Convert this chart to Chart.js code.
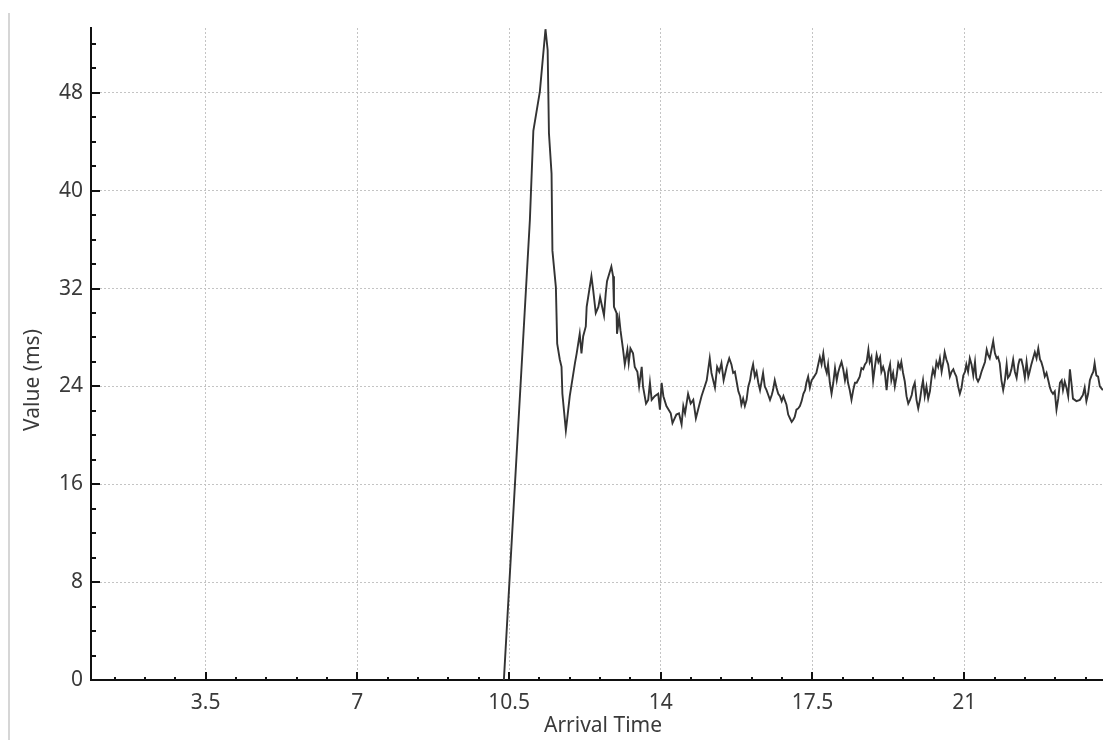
<!DOCTYPE html>
<html>
<head>
<meta charset="utf-8">
<script src="https://cdn.jsdelivr.net/npm/chart.js@4.4.1/dist/chart.umd.min.js"></script>
<style>
  html, body { margin: 0; padding: 0; background: #fff; overflow: hidden; }
  #wrap { position: relative; width: 1103px; height: 740px; overflow: hidden; }
  #edge { position: absolute; left: 8px; top: 13px; width: 2px; bottom: 0; background: #d6d6d6; }
  canvas { position: absolute; left: 0; top: 0; }
</style>
</head>
<body>
<div id="wrap"><div id="edge"></div><canvas id="chart" width="1115" height="740"></canvas></div>
<script>
// arrival time (x) and value in ms (y)
var arrivalTime = [10.38, 10.98, 11.06, 11.21, 11.34, 11.39, 11.42, 11.48, 11.50, 11.58, 11.61, 11.67, 11.71, 11.73, 11.81, 11.84, 11.90,
  12.02, 12.06, 12.13, 12.17, 12.21, 12.27, 12.29, 12.40, 12.44, 12.50, 12.56, 12.60, 12.63, 12.69, 12.73, 12.76, 12.86, 12.90, 12.92, 12.98, 12.99,
  13.04, 13.07, 13.13, 13.17, 13.23, 13.26, 13.30, 13.36, 13.40, 13.46, 13.50, 13.56, 13.59, 13.66, 13.71, 13.75, 13.79, 13.86, 13.94, 13.98,
  14.02, 14.06, 14.13, 14.23, 14.27, 14.36, 14.42, 14.48, 14.52, 14.56, 14.63, 14.69, 14.75, 14.81, 14.86, 14.94,
  15.06, 15.13, 15.17, 15.25, 15.30, 15.35, 15.40, 15.45, 15.52, 15.58, 15.63, 15.67, 15.71, 15.75, 15.79, 15.83, 15.86, 15.90, 15.94, 15.98,
  16.02, 16.06, 16.09, 16.13, 16.17, 16.21, 16.25, 16.29, 16.33, 16.36, 16.40, 16.44, 16.48, 16.52, 16.56, 16.59, 16.63, 16.67, 16.71, 16.75, 16.79, 16.83, 16.86, 16.90, 16.94, 16.98,
  17.02, 17.06, 17.09, 17.13, 17.17, 17.21, 17.25, 17.29, 17.33, 17.36, 17.40, 17.44, 17.48, 17.52, 17.59, 17.67, 17.71, 17.75, 17.79, 17.83, 17.86, 17.90, 17.94, 17.98,
  18.02, 18.06, 18.09, 18.13, 18.17, 18.21, 18.25, 18.29, 18.32, 18.36, 18.40, 18.44, 18.48, 18.52, 18.59, 18.63, 18.67, 18.71, 18.75, 18.79, 18.82, 18.86, 18.90, 18.94, 18.98,
  19.02, 19.06, 19.09, 19.13, 19.17, 19.21, 19.25, 19.29, 19.32, 19.36, 19.40, 19.44, 19.48, 19.52, 19.55, 19.59, 19.63, 19.67, 19.71, 19.75, 19.79, 19.82, 19.86, 19.90, 19.94, 19.98,
  20.02, 20.05, 20.09, 20.13, 20.17, 20.21, 20.25, 20.28, 20.32, 20.36, 20.40, 20.44, 20.48, 20.52, 20.55, 20.59, 20.63, 20.67, 20.71, 20.75, 20.78, 20.82, 20.86, 20.90, 20.94, 20.98,
  21.02, 21.05, 21.09, 21.13, 21.17, 21.21, 21.25, 21.28, 21.32, 21.36, 21.40, 21.44, 21.48, 21.52, 21.55, 21.59, 21.63, 21.67, 21.71, 21.75, 21.78, 21.82, 21.86, 21.90, 21.94, 21.98,
  22.01, 22.05, 22.09, 22.13, 22.17, 22.21, 22.25, 22.28, 22.32, 22.36, 22.40, 22.44, 22.48, 22.51, 22.55, 22.59, 22.63, 22.67, 22.71, 22.75, 22.78, 22.82, 22.86, 22.90, 22.94, 22.98,
  23.01, 23.05, 23.09, 23.13, 23.17, 23.21, 23.25, 23.28, 23.32, 23.36, 23.40, 23.44, 23.48, 23.51, 23.59, 23.67, 23.74, 23.78, 23.82, 23.86, 23.90, 23.94, 23.98,
  24.01, 24.05, 24.09, 24.13, 24.20];
var valueMs = [0, 37.6, 44.9, 48.1, 53.2, 51.5, 44.7, 41.4, 35.1, 32.1, 27.5, 26.2, 25.6, 23.4, 20.4, 21.3, 23.2,
  25.9, 26.7, 28.3, 26.7, 28.1, 28.9, 30.5, 33.0, 31.9, 30.0, 30.5, 31.3, 30.8, 29.8, 31.6, 32.6, 33.8, 33.0, 30.5, 30.0, 28.3,
  29.6, 28.6, 27.0, 25.8, 27.0, 25.9, 27.1, 26.7, 25.6, 25.2, 24.0, 25.6, 24.0, 22.6, 22.9, 24.3, 22.9, 23.2, 23.4, 22.1,
  24.3, 23.2, 22.4, 21.8, 21.0, 21.7, 21.8, 20.9, 22.4, 21.8, 23.4, 22.6, 22.9, 21.4, 22.1, 23.2,
  24.5, 26.3, 25.1, 23.9, 25.6, 25.2, 25.9, 24.5, 25.6, 26.3, 25.8, 25.1, 25.2, 24.4, 23.6, 23.2, 22.5, 23.0, 22.4, 22.9,
  24.0, 24.5, 25.2, 25.8, 24.8, 25.2, 24.3, 23.7, 24.5, 25.1, 24.0, 23.7, 23.3, 22.9, 23.3, 23.7, 24.5, 23.9, 23.4, 23.2, 22.8, 23.2, 22.9, 22.5, 21.7, 21.4,
  21.1, 21.3, 21.5, 22.1, 22.2, 22.4, 22.8, 23.4, 23.7, 24.3, 24.8, 23.9, 24.5, 24.7, 25.1, 26.4, 25.8, 26.7, 25.6, 25.1, 25.8, 24.3, 23.4, 24.3,
  25.5, 24.5, 25.1, 25.6, 26.0, 25.4, 24.5, 25.2, 24.3, 23.7, 22.9, 23.7, 24.3, 24.3, 24.8, 25.5, 25.4, 25.8, 26.0, 27.0, 26.0, 26.4, 24.5, 25.6, 26.6,
  26.0, 26.4, 25.2, 25.6, 25.1, 23.7, 25.2, 25.8, 24.5, 25.1, 24.0, 24.8, 25.9, 25.5, 26.0, 25.1, 24.4, 23.2, 22.6, 22.9, 23.3, 23.9, 24.3, 22.9, 22.2, 22.9,
  23.9, 24.5, 23.2, 24.0, 23.0, 23.6, 24.8, 25.4, 24.9, 26.0, 25.6, 26.3, 25.2, 26.0, 26.8, 26.2, 25.8, 24.8, 25.2, 25.4, 25.1, 24.8, 24.0, 23.4, 23.9, 24.9,
  25.2, 25.8, 25.2, 26.3, 25.8, 24.9, 26.0, 24.7, 24.4, 24.7, 25.2, 25.6, 26.0, 27.0, 26.6, 26.3, 27.0, 27.7, 26.7, 26.3, 26.4, 25.9, 24.5, 23.7, 24.5, 25.8,
  24.7, 24.9, 25.4, 26.2, 25.2, 24.7, 25.8, 26.2, 26.2, 25.6, 24.7, 26.0, 24.8, 25.2, 25.8, 26.3, 26.8, 26.3, 27.1, 26.2, 26.0, 25.5, 24.8, 25.1, 24.5, 23.9,
  23.6, 23.4, 23.6, 22.1, 23.0, 24.3, 24.5, 23.7, 24.4, 23.9, 23.2, 25.4, 24.1, 23.0, 22.8, 22.9, 23.3, 23.9, 22.8, 23.4, 24.5, 24.9, 25.2,
  25.9, 24.9, 24.8, 24.0, 23.7];

var xTicks = [3.5, 7, 10.5, 14, 17.5, 21];
var xTickLabels = ['3.5', '7', '10.5', '14', '17.5', '21'];
var yTicks = [0, 8, 16, 24, 32, 40, 48];
var yTickLabels = ['0', '8', '16', '24', '32', '40', '48'];
// the picture is cut at its right edge, so the axis runs a little past it
var xRange = [0.854, 24.48];
var yRange = [0, 53.3];
var xMinorStep = 0.7;
var yMinorStep = 2;

var textFont = { family: "'Noto Sans', sans-serif", size: 21 };
var textColor = '#3a3a3a';

// tick marks point into the plot, so draw them over the chart
var innerTicks = {
  id: 'innerTicks',
  afterDraw: function (chart) {
    var ctx = chart.ctx, a = chart.chartArea, x = chart.scales.x, y = chart.scales.y;
    ctx.save();
    ctx.strokeStyle = '#111';
    ctx.lineWidth = 2;
    ctx.beginPath();
    for (var k = 1; k * xMinorStep <= xRange[1]; k++) {
      var v = k * xMinorStep;
      if (v < xRange[0]) continue;
      var px = Math.round(x.getPixelForValue(v));
      var len = (k % 5 === 0) ? 8 : 3;
      ctx.moveTo(px, a.bottom);
      ctx.lineTo(px, a.bottom - len);
    }
    for (var j = 1; j * yMinorStep <= yRange[1]; j++) {
      var py = Math.round(y.getPixelForValue(j * yMinorStep));
      var l2 = (j % 4 === 0) ? 9 : 5;
      ctx.moveTo(a.left, py);
      ctx.lineTo(a.left + l2, py);
    }
    ctx.stroke();
    ctx.restore();
  }
};

// y title sits a bit below the middle of the plot in the reference
var yTitle = {
  id: 'yTitle',
  afterDraw: function (chart) {
    var ctx = chart.ctx;
    ctx.save();
    ctx.translate(33, 380);
    ctx.rotate(-Math.PI / 2);
    ctx.font = textFont.size + 'px ' + textFont.family;
    ctx.fillStyle = textColor;
    ctx.textAlign = 'center';
    ctx.textBaseline = 'middle';
    ctx.fillText('Value (ms)', 0, 0);
    ctx.restore();
  }
};

new Chart(document.getElementById('chart'), {
  type: 'line',
  data: {
    datasets: [{
      label: 'Value (ms)',
      data: arrivalTime.map(function (t, i) { return { x: t, y: valueMs[i] }; }),
      borderColor: '#333',
      borderWidth: 1.9,
      pointRadius: 0,
      tension: 0,
      fill: false
    }]
  },
  options: {
    responsive: false,
    animation: false,
    layout: { padding: { top: 28, right: 0, bottom: 0, left: 0 } },
    plugins: { legend: { display: false }, tooltip: { enabled: false } },
    scales: {
      x: {
        type: 'linear',
        min: xRange[0],
        max: xRange[1],
        afterBuildTicks: function (s) { s.ticks = xTicks.map(function (v) { return { value: v }; }); },
        afterFit: function (s) { s.height = 60; },
        border: { display: true, color: '#111', width: 2, dash: [2, 2] },
        grid: { color: '#c4c4c4', lineWidth: 1, drawTicks: false },
        ticks: {
          autoSkip: false, maxRotation: 0, padding: 10, color: textColor, font: textFont,
          callback: function (v, i) { return xTickLabels[i]; }
        },
        title: { display: true, text: 'Arrival Time', color: textColor, font: textFont, padding: { top: 0, bottom: 1 } }
      },
      y: {
        min: yRange[0],
        max: yRange[1],
        afterBuildTicks: function (s) { s.ticks = yTicks.map(function (v) { return { value: v }; }); },
        afterFit: function (s) { s.width = 91; },
        border: { display: true, color: '#111', width: 2, dash: [2, 2] },
        grid: { color: '#c4c4c4', lineWidth: 1, drawTicks: false },
        ticks: {
          autoSkip: false, padding: 8, color: textColor, font: textFont,
          callback: function (v, i) { return yTickLabels[i]; }
        },
        title: { display: false }
      }
    }
  },
  plugins: [innerTicks, yTitle]
});
</script>
</body>
</html>
